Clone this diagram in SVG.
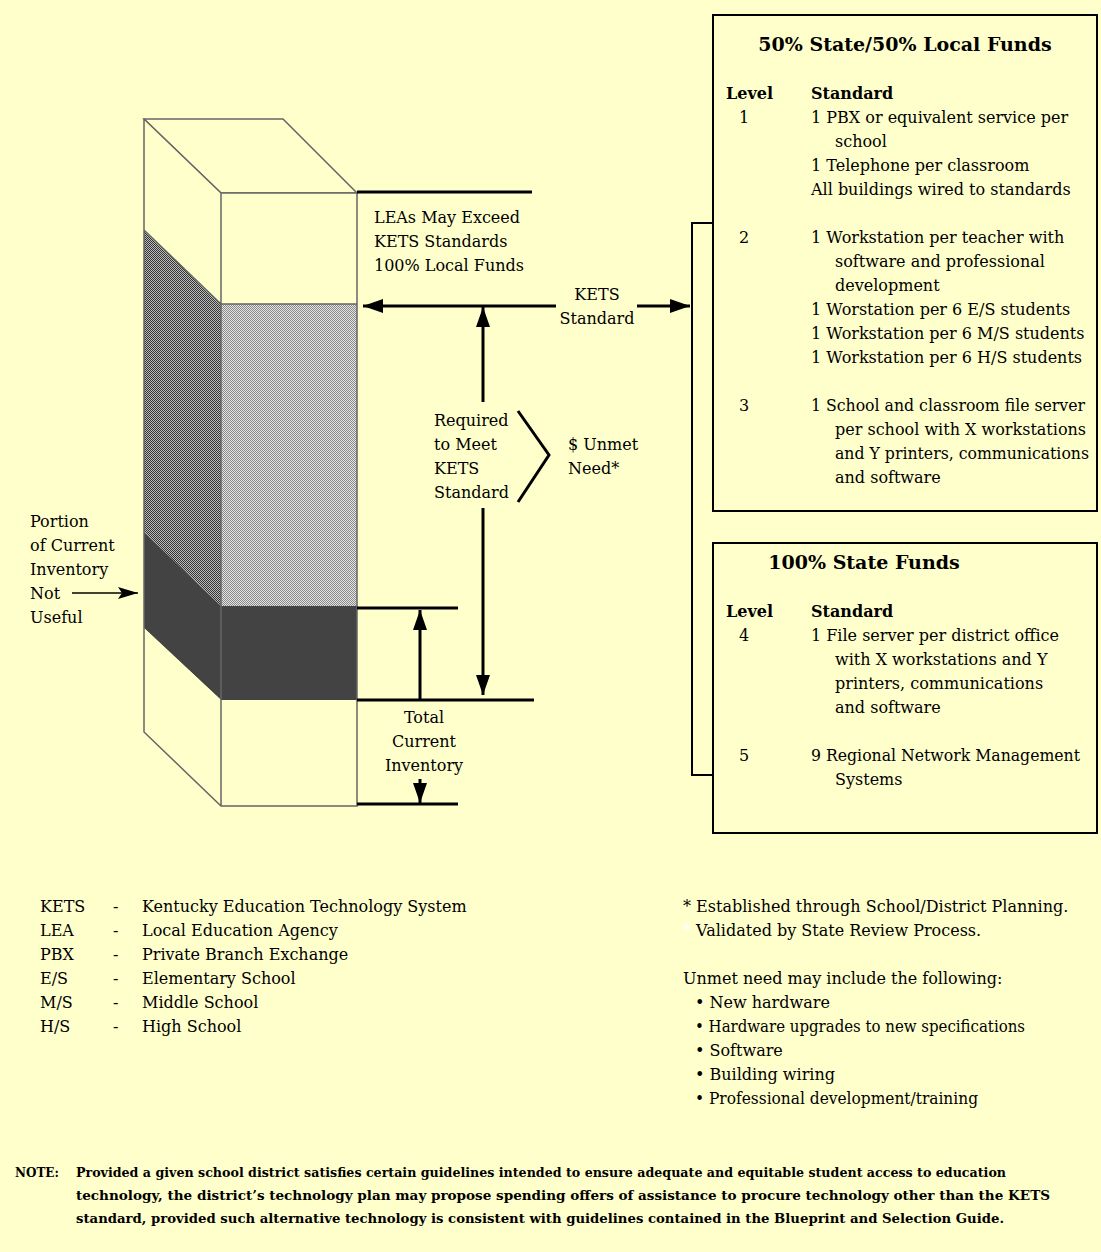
<svg xmlns="http://www.w3.org/2000/svg" width="1101" height="1252" viewBox="0 0 1101 1252">
<defs>
<style>
.t{font-family:"DejaVu Serif","Liberation Serif",serif;font-size:16px;fill:#000}
.b{font-weight:bold}
.ttl{font-family:"DejaVu Serif","Liberation Serif",serif;font-size:19px;font-weight:bold;fill:#000}
.note{font-family:"DejaVu Serif","Liberation Serif",serif;font-size:12px;font-weight:bold;fill:#000}
.mid{text-anchor:middle}
.edge{stroke:#666;stroke-width:1.5;fill:none}
.thick{stroke:#000;stroke-width:3;fill:none}
.box{stroke:#000;stroke-width:2;fill:#FFFFCC}
.br{stroke:#000;stroke-width:2;fill:none}
</style>
<pattern id="hatchDark" width="2" height="2" patternUnits="userSpaceOnUse">
<rect width="2" height="2" fill="#bcbcbc"/>
<rect width="1" height="1" fill="#333333"/>
<rect x="1" y="1" width="1" height="1" fill="#333333"/>
</pattern>
<pattern id="hatchLight" width="2" height="2" patternUnits="userSpaceOnUse">
<rect width="2" height="2" fill="#e4e4e4"/>
<rect width="1" height="1" fill="#8a8a8a"/>
<rect x="1" y="1" width="1" height="1" fill="#8a8a8a"/>
</pattern>
<marker id="ah" markerUnits="userSpaceOnUse" markerWidth="22" markerHeight="16" refX="20" refY="7" orient="auto">
<path d="M0,0 L20,7 L0,14 Z" fill="#000"/>
</marker>
<marker id="ahs" markerUnits="userSpaceOnUse" markerWidth="22" markerHeight="14" refX="20" refY="6" orient="auto">
<path d="M0,0 L20,6 L0,12 L4,6 Z" fill="#000"/>
</marker>
</defs>
<rect width="1101" height="1252" fill="#FFFFCC"/>

<g id="prism">
<polygon points="144,119 283,119 357,193 221,193" fill="#FFFFCC" class="edge"/>
<polygon points="144,119 221,193 221,304 144,230" fill="#FFFFCC"/>
<polygon points="144,230 221,304 221,606 144,532" fill="url(#hatchDark)"/>
<polygon points="144,532 221,606 221,700 144,628" fill="#434343"/>
<polygon points="144,628 221,700 221,806 144,732" fill="#FFFFCC"/>
<rect x="221" y="193" width="136" height="111" fill="#FFFFCC"/>
<rect x="221" y="304" width="136" height="302" fill="url(#hatchLight)"/>
<rect x="221" y="606" width="136" height="94" fill="#434343"/>
<rect x="221" y="700" width="136" height="106" fill="#FFFFCC"/>
<path class="edge" d="M144,119 V732 L221,806 H357 V193 M144,119 L221,193 V806 M221,193 H357 M144,230 L221,304 H357"/>
</g>

<g id="connectors">
<line class="thick" x1="357" y1="192" x2="532" y2="192"/>
<line class="thick" x1="556" y1="306" x2="363" y2="306" marker-end="url(#ah)"/>
<line class="thick" x1="637" y1="306" x2="690" y2="306" marker-end="url(#ah)"/>
<line class="thick" x1="483" y1="402" x2="483" y2="307" marker-end="url(#ah)"/>
<line class="thick" x1="483" y1="508" x2="483" y2="695" marker-end="url(#ah)"/>
<path class="thick" d="M518,411 L549,455 L518,502"/>
<line class="thick" x1="357" y1="608" x2="458" y2="608"/>
<line class="thick" x1="357" y1="700" x2="534" y2="700"/>
<line class="thick" x1="357" y1="804" x2="458" y2="804"/>
<line class="thick" x1="420" y1="700" x2="420" y2="610" marker-end="url(#ah)"/>
<line class="thick" x1="420" y1="779" x2="420" y2="803" marker-end="url(#ah)"/>
<line stroke="#000" stroke-width="1.5" x1="72" y1="593" x2="138" y2="593" marker-end="url(#ahs)"/>
<path class="br" d="M713,223 H692 V775 H713"/>
</g>

<g id="labels">
<text class="t" x="374" y="223">LEAs May Exceed</text>
<text class="t" x="374" y="247">KETS Standards</text>
<text class="t" x="374" y="271">100% Local Funds</text>
<text class="t mid" x="597" y="300">KETS</text>
<text class="t mid" x="597" y="324">Standard</text>
<text class="t" x="434" y="426">Required</text>
<text class="t" x="434" y="450">to Meet</text>
<text class="t" x="434" y="474">KETS</text>
<text class="t" x="434" y="498">Standard</text>
<text class="t" x="568" y="450">$ Unmet</text>
<text class="t" x="568" y="474">Need*</text>
<text class="t mid" x="424" y="723">Total</text>
<text class="t mid" x="424" y="747">Current</text>
<text class="t mid" x="424" y="771">Inventory</text>
<text class="t" x="30" y="527">Portion</text>
<text class="t" x="30" y="551">of Current</text>
<text class="t" x="30" y="575">Inventory</text>
<text class="t" x="30" y="599">Not</text>
<text class="t" x="30" y="623">Useful</text>
</g>

<g id="box-local">
<rect class="box" x="713" y="15" width="384" height="496"/>
<text class="ttl mid" x="905" y="51">50% State/50% Local Funds</text>
<text class="t b" x="726" y="99">Level</text>
<text class="t b" x="811" y="99">Standard</text>
<text class="t" x="739" y="123">1</text>
<text class="t" x="811" y="123">1 PBX or equivalent service per</text>
<text class="t" x="835" y="147">school</text>
<text class="t" x="811" y="171">1 Telephone per classroom</text>
<text class="t" x="811" y="195">All buildings wired to standards</text>
<text class="t" x="739" y="243">2</text>
<text class="t" x="811" y="243">1 Workstation per teacher with</text>
<text class="t" x="835" y="267">software and professional</text>
<text class="t" x="835" y="291">development</text>
<text class="t" x="811" y="315">1 Worstation per 6 E/S students</text>
<text class="t" x="811" y="339">1 Workstation per 6 M/S students</text>
<text class="t" x="811" y="363">1 Workstation per 6 H/S students</text>
<text class="t" x="739" y="411">3</text>
<text class="t" x="811" y="411" textLength="274" lengthAdjust="spacingAndGlyphs">1 School and classroom file server</text>
<text class="t" x="835" y="435">per school with X workstations</text>
<text class="t" x="835" y="459" textLength="254" lengthAdjust="spacingAndGlyphs">and Y printers, communications</text>
<text class="t" x="835" y="483">and software</text>
</g>

<g id="box-state">
<rect class="box" x="713" y="543" width="384" height="290"/>
<text class="ttl mid" x="864" y="569">100% State Funds</text>
<text class="t b" x="726" y="617">Level</text>
<text class="t b" x="811" y="617">Standard</text>
<text class="t" x="739" y="641">4</text>
<text class="t" x="811" y="641">1 File server per district office</text>
<text class="t" x="835" y="665">with X workstations and Y</text>
<text class="t" x="835" y="689">printers, communications</text>
<text class="t" x="835" y="713">and software</text>
<text class="t" x="739" y="761">5</text>
<text class="t" x="811" y="761" textLength="269" lengthAdjust="spacingAndGlyphs">9 Regional Network Management</text>
<text class="t" x="835" y="785">Systems</text>
</g>

<g id="legend">
<text class="t" x="40" y="912">KETS</text><text class="t" x="113" y="912">-</text><text class="t" x="142" y="912">Kentucky Education Technology System</text>
<text class="t" x="40" y="936">LEA</text><text class="t" x="113" y="936">-</text><text class="t" x="142" y="936">Local Education Agency</text>
<text class="t" x="40" y="960">PBX</text><text class="t" x="113" y="960">-</text><text class="t" x="142" y="960">Private Branch Exchange</text>
<text class="t" x="40" y="984">E/S</text><text class="t" x="113" y="984">-</text><text class="t" x="142" y="984">Elementary School</text>
<text class="t" x="40" y="1008">M/S</text><text class="t" x="113" y="1008">-</text><text class="t" x="142" y="1008">Middle School</text>
<text class="t" x="40" y="1032">H/S</text><text class="t" x="113" y="1032">-</text><text class="t" x="142" y="1032">High School</text>
</g>

<g id="footnotes">
<text class="t" x="683" y="912">* Established through School/District Planning.</text>
<text class="t" x="683" y="936"><tspan fill="#ffffff">*</tspan> Validated by State Review Process.</text>
<text class="t" x="683" y="984">Unmet need may include the following:</text>
<text class="t" x="695" y="1008">• New hardware</text>
<text class="t" x="695" y="1032" textLength="330" lengthAdjust="spacingAndGlyphs">• Hardware upgrades to new specifications</text>
<text class="t" x="695" y="1056">• Software</text>
<text class="t" x="695" y="1080">• Building wiring</text>
<text class="t" x="695" y="1104" textLength="283" lengthAdjust="spacingAndGlyphs">• Professional development/training</text>
</g>

<g id="note">
<text class="note" x="15" y="1177">NOTE:</text>
<text class="note" x="76" y="1177" textLength="930" lengthAdjust="spacingAndGlyphs">Provided a given school district satisfies certain guidelines intended to ensure adequate and equitable student access to education</text>
<text class="note" x="76" y="1200" textLength="974" lengthAdjust="spacingAndGlyphs">technology, the district’s technology plan may propose spending offers of assistance to procure technology other than the KETS</text>
<text class="note" x="76" y="1223" textLength="928" lengthAdjust="spacingAndGlyphs">standard, provided such alternative technology is consistent with guidelines contained in the Blueprint and Selection Guide.</text>
</g>
</svg>
